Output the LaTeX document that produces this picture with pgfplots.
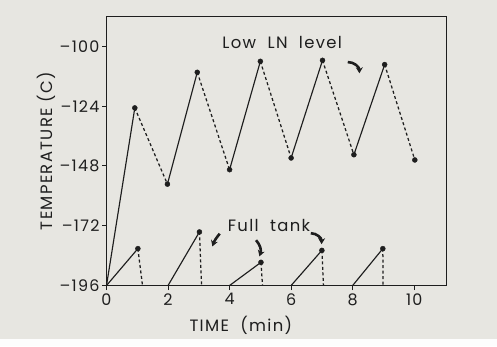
\documentclass[border=0pt]{standalone}
\usepackage{fontspec}
\setmainfont{Poppins}[LetterSpace=8]
\usepackage{pgfplots}
\pgfplotsset{compat=1.18}
\usetikzlibrary{arrows.meta}
\definecolor{paper}{RGB}{231,230,225}
\definecolor{ink}{RGB}{30,30,30}
\begin{document}
\begin{tikzpicture}[x=1bp,y=1bp]
\fill[paper] (0,0) rectangle (497,346);
\fill[white!92!paper] (0,0) rectangle (497,7);
\begin{axis}[
  at={(106.5bp,60.5bp)}, anchor=south west,
  scale only axis, width=340bp, height=269bp,
  xmin=0, xmax=11.05, ymin=-196, ymax=-88,
  xtick={0,2,4,6,8,10},
  ytick={-196,-172,-148,-124,-100},
  yticklabels={--196,--172,--148,--124,--100},
  xticklabels={0,2,4,6,8,10},
  tick align=outside, tick pos=left,
  major tick length=4.5bp,
  axis line style={ink, line width=1.2bp},
  every tick/.style={ink, line width=1bp},
  tick label style={font=\fontsize{16}{16}\selectfont, text=ink},
  yticklabel style={xshift=1bp},
  xlabel={TIME\ \ (min)},
  ylabel={TEMPERATURE (C)},
  label style={font=\fontsize{16.5}{16.5}\selectfont, text=ink},
  xlabel style={at={(axis description cs:0.395,-0.147)}, anchor=center},
  ylabel style={at={(axis description cs:-0.178,0.5)}, anchor=center},
  clip=false,
  unbounded coords=jump,
]
% Low LN level: rising (solid)
\addplot[ink, line width=1.15bp] coordinates {
(0,-196) (0.92,-124.7) (1,nan)
(1.98,-155.3) (2.95,-110.4) (3,nan)
(4.0,-149.5) (5.0,-106.0) (5,nan)
(6.0,-144.8) (7.02,-105.6) (7,nan)
(8.04,-143.5) (9.04,-107.3)
};
% Low LN level: falling (dashed)
\addplot[ink, line width=1.25bp, dash pattern=on 3bp off 2.5bp] coordinates {
(0.92,-124.7) (1.98,-155.3) (2,nan)
(2.95,-110.4) (4.0,-149.5) (4,nan)
(5.0,-106.0) (6.0,-144.8) (6,nan)
(7.02,-105.6) (8.04,-143.5) (8,nan)
(9.04,-107.3) (10.02,-145.6)
};
% Low LN level markers
\addplot[only marks, mark=*, mark size=2.5bp, ink] coordinates {
(0.92,-124.7) (1.98,-155.3) (2.95,-110.4) (4.0,-149.5) (5.0,-106.0)
(6.0,-144.8) (7.02,-105.6) (8.04,-143.5) (9.04,-107.3) (10.02,-145.6)
};
% Full tank: rising (solid)
\addplot[ink, line width=1.15bp] coordinates {
(0,-196) (1.02,-181.2) (1,nan)
(2.0,-196) (3.02,-174.5) (3,nan)
(4.0,-196) (5.02,-186.7) (5,nan)
(6.0,-196) (7.0,-181.9) (7,nan)
(8.0,-196) (8.98,-181.2)
};
% Full tank: falling (dashed)
\addplot[ink, line width=1.25bp, dash pattern=on 3bp off 2.5bp] coordinates {
(1.02,-181.2) (1.17,-196) (1,nan)
(3.02,-174.5) (3.09,-196) (3,nan)
(5.02,-186.7) (5.07,-196) (5,nan)
(7.0,-181.9) (7.05,-196) (7,nan)
(8.98,-181.2) (8.99,-196)
};
% Full tank markers
\addplot[only marks, mark=*, mark size=2.5bp, ink] coordinates {
(1.02,-181.2) (3.02,-174.5) (5.02,-186.7) (7.0,-181.9) (8.98,-181.2)
};
% annotations
\node[font=\fontsize{16.5}{16.5}\selectfont, text=ink] at (axis cs:5.71,-98.6) {Low\ \ LN\ \ level};
\node[font=\fontsize{16.5}{16.5}\selectfont, text=ink] at (axis cs:5.28,-172) {Full\ \ tank};
\draw[ink, line width=2.6bp, -{Stealth[length=6bp,width=7bp]}] (axis cs:7.84,-106.3) to[bend left=45] (axis cs:8.22,-110.8);
\draw[ink, line width=2.6bp, -{Stealth[length=6bp,width=7bp]}] (axis cs:3.68,-175.2) to[bend right=10] (axis cs:3.44,-180.3);
\draw[ink, line width=2.6bp, -{Stealth[length=6bp,width=7bp]}] (axis cs:4.86,-177.8) to[bend left=30] (axis cs:4.97,-184.3);
\draw[ink, line width=2.6bp, -{Stealth[length=6bp,width=7bp]}] (axis cs:6.64,-175.0) to[bend left=45] (axis cs:6.99,-179.4);
\end{axis}
\end{tikzpicture}
\end{document}
